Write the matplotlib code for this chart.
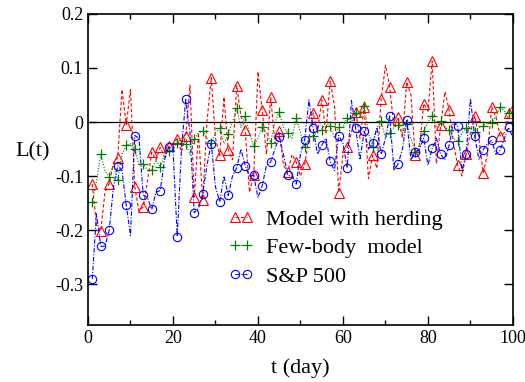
import numpy as np
import matplotlib
matplotlib.use('Agg')
import matplotlib.pyplot as plt
from matplotlib.ticker import MultipleLocator

plt.rcParams['font.family'] = ['Liberation Serif', 'DejaVu Serif']
plt.rcParams['mathtext.fontset'] = 'stix'

# 天数
days = np.arange(1, 101)

# Model with herding (红色虚线, 三角)
herding = [-0.115, -0.19, -0.202, -0.13, -0.114, -0.075, -0.066, 0.06, -0.005, 0.06,
           -0.12, -0.165, -0.157, -0.11, -0.056, -0.07, -0.047, -0.065, -0.045, -0.04,
           -0.031, -0.055, -0.025, 0.068, -0.139, -0.02, -0.145, 0.0, 0.082, -0.03,
           -0.062, 0.046, -0.051, -0.07, 0.067, 0.01, -0.015, -0.13, -0.099, 0.093,
           0.022, -0.06, 0.046, -0.04, -0.017, -0.08, -0.093, -0.06, -0.074, -0.1,
           -0.078, -0.03, 0.017, -0.02, 0.041, -0.02, 0.076, 0.03, -0.131, -0.06,
           -0.047, -0.02, 0.019, -0.03, 0.028, -0.105, -0.062, -0.086, 0.043, 0.105,
           0.065, -0.01, 0.009, -0.03, 0.074, 0.05, -0.062, -0.05, 0.034, 0.02,
           0.113, -0.077, -0.006, 0.056, 0.022, -0.04, -0.080, -0.10, -0.059, -0.02,
           0.012, -0.03, -0.094, -0.06, 0.028, 0.01, -0.026, -0.02, 0.017, 0.03]

# Few-body model (绿色点线, 十字)
fewbody = [-0.148, -0.11, -0.06, -0.09, -0.102, -0.08, -0.108, -0.06, -0.043, -0.04,
           -0.05, -0.08, -0.077, -0.09, -0.089, -0.07, -0.084, -0.06, -0.054, -0.05,
           -0.039, -0.03, -0.04, -0.06, -0.032, -0.02, -0.017, -0.03, -0.038, -0.02,
           -0.012, -0.04, -0.022, 0.0, 0.025, -0.01, 0.011, -0.02, -0.045, -0.03,
           -0.010, -0.02, -0.038, 0.0, 0.019, -0.01, -0.020, -0.03, 0.008, -0.02,
           -0.047, -0.03, -0.025, -0.02, -0.014, 0.0, -0.008, -0.03, -0.010, -0.01,
           0.008, 0.0, 0.017, 0.01, 0.030, -0.02, -0.046, -0.01, 0.001, -0.03,
           -0.020, -0.01, -0.006, -0.02, -0.003, -0.03, -0.056, -0.04, -0.017, 0.0,
           0.012, -0.01, 0.002, -0.01, -0.014, -0.03, -0.035, -0.02, -0.012, -0.01,
           -0.018, -0.01, -0.008, 0.0, -0.002, 0.01, 0.028, 0.02, 0.016, 0.01]

# S&P 500 (蓝色点划线, 圆圈)
sp500 = [-0.291, -0.17, -0.230, -0.23, -0.200, -0.12, -0.081, -0.09, -0.154, -0.21,
         -0.025, -0.03, -0.135, -0.14, -0.162, -0.13, -0.127, -0.07, -0.046, -0.05,
         -0.212, -0.05, 0.042, -0.02, -0.168, -0.16, -0.133, -0.08, -0.040, -0.12,
         -0.148, -0.10, -0.136, -0.10, -0.085, -0.05, -0.081, -0.10, -0.099, -0.14,
         -0.118, -0.08, -0.074, -0.05, -0.028, -0.06, -0.099, -0.10, -0.115, -0.06,
         -0.033, 0.041, -0.012, -0.06, -0.043, -0.03, -0.073, -0.09, -0.025, -0.04,
         -0.085, 0.04, -0.012, -0.07, -0.017, -0.05, -0.039, -0.01, -0.060, -0.03,
         0.011, -0.09, -0.077, -0.05, 0.003, -0.07, -0.056, -0.05, -0.030, -0.08,
         -0.049, -0.03, -0.060, -0.07, -0.043, 0.0, -0.008, -0.09, -0.059, 0.043,
         -0.026, -0.07, -0.051, -0.04, -0.034, -0.06, -0.052, -0.03, -0.010, -0.03]

fig = plt.figure(figsize=(5.25, 3.82), dpi=100)
ax = fig.add_axes([0.1676, 0.149, 0.8094, 0.8144])

ax.axhline(0, color='k', lw=0.9, zorder=1)

ax.plot(days, herding, color='red', ls=(0, (3, 2)), lw=0.8, marker='^', ms=6.5,
        mfc='none', mec='red', mew=0.8, markevery=(0, 2), label='Model with herding')
ax.plot(days, fewbody, color='green', ls=(0, (1, 1.5)), lw=0.8, marker='+', ms=7,
        mec='green', mew=0.9, markevery=(0, 2), label='Few-body  model')
ax.plot(days, sp500, color='blue', ls=(0, (4, 1.5, 1, 1.5)), lw=0.8, marker='o', ms=6,
        mfc='none', mec='blue', mew=0.8, markevery=(0, 2), label='S&P 500')

ax.set_xlim(0, 100)
ax.set_ylim(-0.376, 0.2)
ax.xaxis.set_major_locator(MultipleLocator(20))
ax.xaxis.set_minor_locator(MultipleLocator(10))
ax.set_yticks([-0.3, -0.2, -0.1, 0, 0.1, 0.2])
ax.set_yticklabels(['-0.3', '-0.2', '-0.1', '0', '0.1', '0.2'])
ax.tick_params(which='both', direction='in', top=True, right=True, labelsize=13, width=1)
ax.tick_params(which='major', length=6.5)
ax.tick_params(which='minor', length=3.5)
for s in ax.spines.values():
    s.set_linewidth(1.2)

ax.set_xlabel('t (day)', fontsize=16, labelpad=8)
ax.set_ylabel('L(t)', fontsize=16, rotation=0, ha='center', va='center')
ax.yaxis.set_label_coords(-0.13, 0.556)

ax.legend(loc='upper left', bbox_to_anchor=(0.33, 0.372), frameon=False, fontsize=16,
          numpoints=2, handlelength=1.15, handletextpad=0.55, labelspacing=0.35,
          borderpad=0, borderaxespad=0)

plt.savefig('out.png', dpi=100)
